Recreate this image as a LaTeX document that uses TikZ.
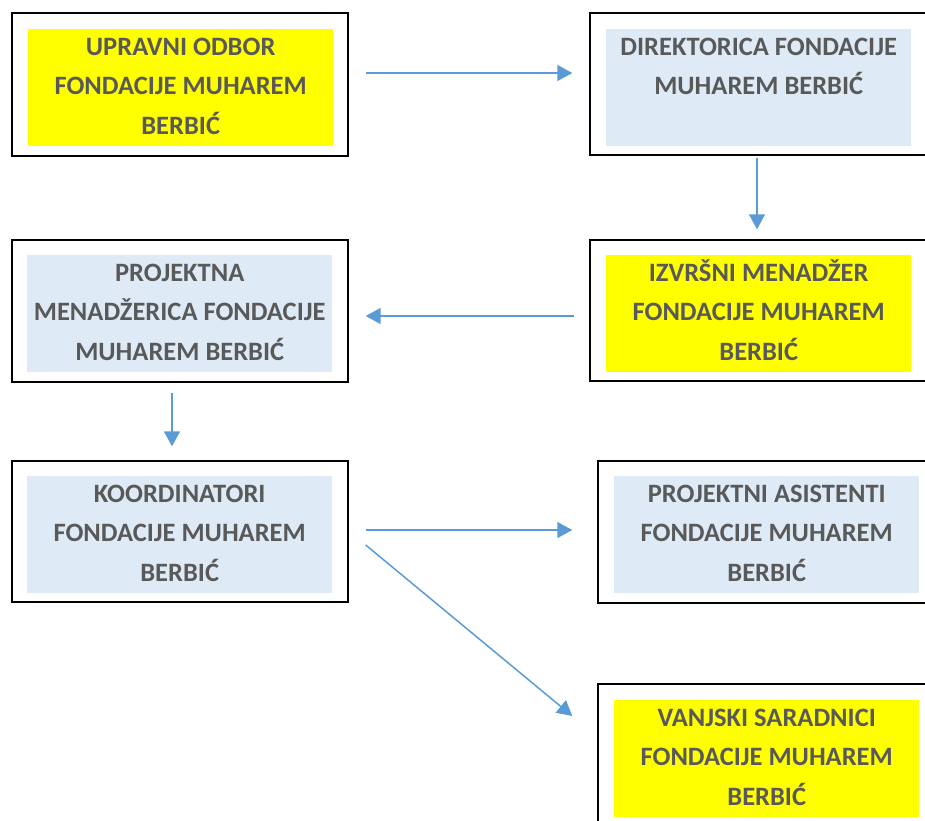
\documentclass[tikz,border=0pt]{standalone}
\usepackage{fontspec}
\setmainfont{Carlito}
\usetikzlibrary{arrows.meta}
\definecolor{boxyellow}{HTML}{FFFF00}
\definecolor{boxblue}{HTML}{DEEBF7}
\definecolor{flowblue}{HTML}{5B9BD5}
\definecolor{labelgray}{HTML}{595959}
\newcommand{\boxtext}[1]{\parbox[c][117pt][t]{305pt}{\centering\fontsize{26.5}{39.5}\selectfont\bfseries\rule{0pt}{25.8pt}#1}}

\begin{document}
\begin{tikzpicture}[x=1pt,y=1pt]
\tikzstyle{every node}+=[inner sep=0pt]
\tikzstyle{frame}=[draw=black, line width=1.4pt]
\tikzstyle{yellowbox}=[fill=boxyellow, text=labelgray, anchor=north west]
\tikzstyle{bluebox}=[fill=boxblue, text=labelgray, anchor=north west]
\tikzstyle{flow}=[draw=flowblue, line width=1.5pt, -{Triangle[length=15pt,width=16pt]}]
\useasboundingbox (0,0) rectangle (925,-820);
\clip (0,0) rectangle (925,-820);
% outer frames
\node [frame, minimum width=336pt, minimum height=143pt] (uo) at (180,-84.5) {};
\node [frame, minimum width=350pt, minimum height=142pt] (dir) at (765,-84) {};
\node [frame, minimum width=350pt, minimum height=141pt] (izv) at (765,-310.5) {};
\node [frame, minimum width=336pt, minimum height=142pt] (pm) at (180,-311) {};
\node [frame, minimum width=336pt, minimum height=141pt] (koord) at (180,-531.5) {};
\node [frame, minimum width=342pt, minimum height=142pt] (asist) at (769,-532) {};
\node [frame, minimum width=342pt, minimum height=146pt] (vanj) at (769,-757) {};
% coloured text boxes
\node [yellowbox] (uoText) at (28,-29) {\boxtext{UPRAVNI ODBOR\\FONDACIJE MUHAREM\\BERBIĆ}};
\node [bluebox] (dirText) at (606,-29) {\boxtext{DIREKTORICA FONDACIJE\\MUHAREM BERBIĆ}};
\node [yellowbox] (izvText) at (606,-255) {\boxtext{IZVRŠNI MENADŽER\\FONDACIJE MUHAREM\\BERBIĆ}};
\node [bluebox] (pmText) at (27,-255) {\boxtext{PROJEKTNA\\MENADŽERICA FONDACIJE\\MUHAREM BERBIĆ}};
\node [bluebox] (koordText) at (27,-476) {\boxtext{KOORDINATORI\\FONDACIJE MUHAREM\\BERBIĆ}};
\node [bluebox] (asistText) at (614,-476) {\boxtext{PROJEKTNI ASISTENTI\\FONDACIJE MUHAREM\\BERBIĆ}};
\node [yellowbox] (vanjText) at (614,-700) {\boxtext{VANJSKI SARADNICI\\FONDACIJE MUHAREM\\BERBIĆ}};
% arrows
\draw [flow] ([xshift=17pt,yshift=11.5pt]uo.east) -- ([xshift=-17pt,yshift=11pt]dir.west);
\draw [flow] ([xshift=-8pt,yshift=-2pt]dir.south) -- ([xshift=-8pt,yshift=10pt]izv.north);
\draw [flow] ([xshift=-15pt,yshift=-5.5pt]izv.west) -- ([xshift=17pt,yshift=-5pt]pm.east);
\draw [flow] ([xshift=-8pt,yshift=-10pt]pm.south) -- ([xshift=-8pt,yshift=14pt]koord.north);
\draw [flow] ([xshift=17pt,yshift=1.5pt]koord.east) -- ([xshift=-25pt,yshift=2pt]asist.west);
\draw [flow] ([xshift=17pt,yshift=-13.5pt]koord.east) -- ([xshift=-25pt,yshift=41pt]vanj.west);
\end{tikzpicture}
\end{document}
